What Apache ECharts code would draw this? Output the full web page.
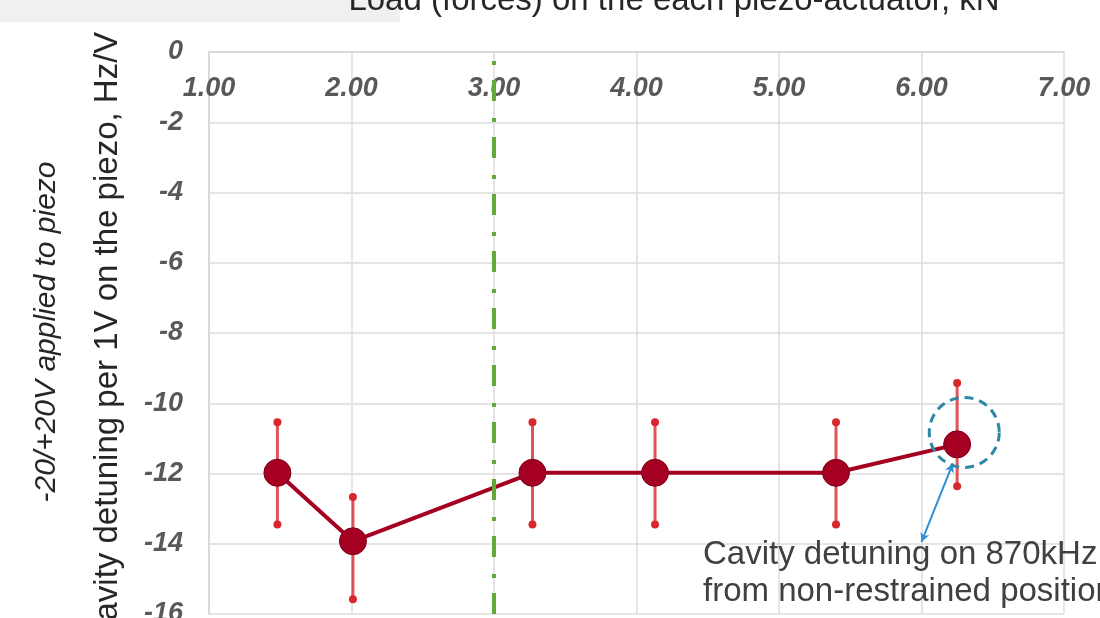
<!DOCTYPE html>
<html>
<head>
<meta charset="utf-8">
<script src="https://cdn.jsdelivr.net/npm/echarts@6/dist/echarts.min.js"></script>
<style>
  html, body { margin: 0; padding: 0; background: #fff; }
  #chart { width: 1100px; height: 618px; }
</style>
</head>
<body>
<div id="chart"></div>
<script>
// load on each piezo-actuator, kN
const loads = [1.48, 2.01, 3.27, 4.13, 5.40, 6.25];
// cavity detuning, Hz/V
const detuning = [-11.98, -13.93, -11.98, -11.98, -11.98, -11.17];
const errTop = [-10.54, -12.67, -10.54, -10.54, -10.54, -9.42];
const errBottom = [-13.45, -15.58, -13.45, -13.45, -13.45, -12.36];
const xTicks = [1, 2, 3, 4, 5, 6, 7];
const yTicks = [0, -2, -4, -6, -8, -10, -12, -14, -16];
const limitLoad = 3;
const highlightPoint = [6.3, -10.83];
const arrowFrom = [6.22, -11.71];
const arrowTo = [6.0, -13.95];

const FONT = "'Liberation Sans', Arial, sans-serif";
const RED = '#a50021';
const BAR_RED = '#d8282e';

const chart = echarts.init(document.getElementById('chart'));

const errData = loads.map((x, i) => [x, errBottom[i], errTop[i]]);

chart.setOption({
  animation: false,
  backgroundColor: '#fff',
  grid: { left: 209, right: 36, top: 52, bottom: 4, containLabel: false, outerBoundsMode: 'none' },
  xAxis: {
    type: 'value',
    position: 'top',
    min: xTicks[0],
    max: xTicks[xTicks.length - 1],
    interval: 1,
    axisLine: { show: true, onZero: false, lineStyle: { color: '#d9d9d9', width: 2 } },
    axisTick: { show: false },
    splitLine: { show: true, lineStyle: { color: '#dcdcdc', width: 1.5 } },
    axisLabel: {
      inside: true,
      margin: 23,
      color: '#595959',
      fontFamily: FONT,
      fontSize: 27,
      fontWeight: 'bold',
      fontStyle: 'italic',
      formatter: v => v.toFixed(2)
    }
  },
  yAxis: {
    type: 'value',
    min: yTicks[yTicks.length - 1],
    max: yTicks[0],
    interval: 2,
    axisLine: { show: true, onZero: false, lineStyle: { color: '#d9d9d9', width: 2 } },
    axisTick: { show: false },
    splitLine: { show: true, lineStyle: { color: '#dcdcdc', width: 1.5 } },
    axisLabel: {
      margin: 26,
      color: '#595959',
      fontFamily: FONT,
      fontSize: 27,
      fontWeight: 'bold',
      fontStyle: 'italic'
    }
  },
  graphic: [
    { type: 'rect', left: 0, top: 0, z: 0, shape: { width: 400, height: 22 }, style: { fill: '#f0f0f0' } },
    {
      type: 'text', x: 674, y: 1, z: 10,
      style: { text: 'Load (forces) on the each piezo-actuator, kN', font: '33px ' + FONT, fill: '#262626', align: 'center', verticalAlign: 'middle' }
    },
    {
      type: 'text', x: 108, y: 338, rotation: Math.PI / 2, z: 10,
      style: { text: 'Cavity detuning per 1V on the piezo, Hz/V', font: '33px ' + FONT, fill: '#262626', align: 'center', verticalAlign: 'middle' }
    },
    {
      type: 'text', x: 47, y: 332, rotation: Math.PI / 2, z: 10,
      style: { text: '-20/+20V applied to piezo', font: 'italic 30px ' + FONT, fill: '#262626', align: 'center', verticalAlign: 'middle' }
    },
    {
      type: 'text', x: 703, y: 573, z: 10,
      style: { text: 'Cavity detuning on 870kHz\nfrom non-restrained position', font: '33px ' + FONT, lineHeight: 37, fill: '#404040', align: 'left', verticalAlign: 'middle' }
    }
  ],
  series: [
    {
      type: 'custom',
      z: 2,
      data: errData,
      renderItem(params, api) {
        const x = api.value(0);
        const lo = api.coord([x, api.value(1)]);
        const hi = api.coord([x, api.value(2)]);
        return {
          type: 'group',
          children: [
            { type: 'line', shape: { x1: lo[0], y1: lo[1], x2: hi[0], y2: hi[1] }, style: { stroke: BAR_RED, lineWidth: 3, opacity: 0.8 } },
            { type: 'circle', shape: { cx: lo[0], cy: lo[1], r: 4 }, style: { fill: BAR_RED } },
            { type: 'circle', shape: { cx: hi[0], cy: hi[1], r: 4 }, style: { fill: BAR_RED } }
          ]
        };
      },
      markLine: {
        silent: true,
        symbol: 'none',
        label: { show: false },
        lineStyle: { color: '#62a83a', width: 4, type: [21, 15, 4, 17] },
        data: [{ xAxis: limitLoad }]
      }
    },
    {
      type: 'line',
      z: 3,
      data: loads.map((x, i) => [x, detuning[i]]),
      symbol: 'circle',
      symbolSize: 27,
      lineStyle: { color: RED, width: 4 },
      itemStyle: { color: RED, borderColor: '#7a0018', borderWidth: 1 },
      markPoint: {
        silent: true,
        symbol: 'circle',
        symbolSize: 70,
        label: { show: false },
        itemStyle: { color: 'rgba(0,0,0,0)', borderColor: '#2b88a8', borderWidth: 3, borderType: [9, 6] },
        data: [{ coord: highlightPoint }]
      },
      markLine: {
        silent: true,
        symbol: ['arrow', 'arrow'],
        symbolSize: [7, 9],
        label: { show: false },
        lineStyle: { color: '#2f8fd8', width: 2, type: 'solid' },
        data: [[{ coord: arrowFrom }, { coord: arrowTo }]]
      }
    }
  ]
});
</script>
</body>
</html>
